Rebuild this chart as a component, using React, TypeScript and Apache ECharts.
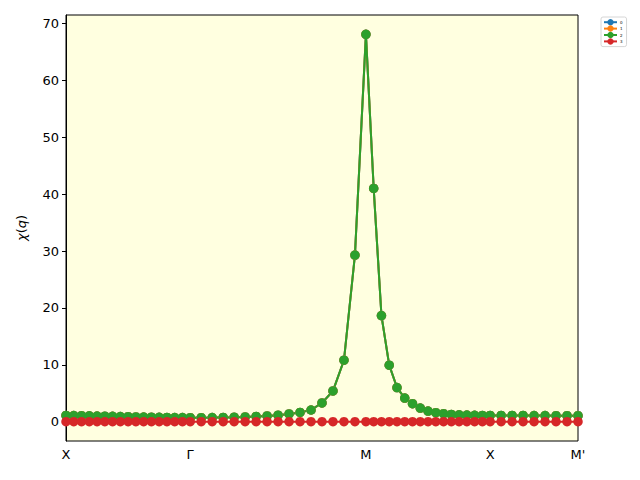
import * as echarts from "echarts";
import { useEffect, useRef } from "react";

// k-path: X -> Γ -> M -> X -> M'
const tickLabels = ["X", "Γ", "M", "X", "M'"];
const vertexPos = [0, 1, 1 + Math.SQRT2, 2 + Math.SQRT2, 2 + 1.5 * Math.SQRT2];
const segmentSteps = [16, 16, 16, 8];

// χ(q) along each segment (modes 0, 1, 2 coincide)
const chiXG = [1.1, 1.08, 1.05, 1.02, 0.99, 0.96, 0.93, 0.9, 0.87, 0.84, 0.81, 0.79, 0.77, 0.75, 0.73, 0.71, 0.7];
const chiGM = [0.7, 0.7, 0.72, 0.75, 0.79, 0.84, 0.91, 1.0, 1.13, 1.35, 1.63, 2.05, 3.3, 5.4, 10.8, 29.3, 68.1];
const chiMX = [68.1, 41.0, 18.65, 9.94, 6.0, 4.15, 3.16, 2.4, 1.87, 1.58, 1.4, 1.28, 1.2, 1.15, 1.12, 1.1, 1.1];
const chiXM2 = [1.1, 1.1, 1.1, 1.09, 1.08, 1.07, 1.06, 1.05, 1.05];
const chiMode3 = [
  0, 0, 0, 0, 0, 0, 0, 0, 0, 0, 0, 0, 0, 0, 0, 0, 0, 0, 0, 0, 0, 0, 0, 0, 0, 0, 0, 0, 0,
  0, 0, 0, 0, 0, 0, 0, 0, 0, 0, 0, 0, 0, 0, 0, 0, 0, 0, 0, 0, 0, 0, 0, 0, 0, 0, 0, 0,
];

const seriesNames = ["0", "1", "2", "3"];
const colors = ["#1f77b4", "#ff7f0e", "#2ca02c", "#d62728"];
const yTicks = [0, 10, 20, 30, 40, 50, 60, 70];

// positions of the sampled q-points along the path
const qPos: number[] = [];
segmentSteps.forEach((n, s) => {
  const a = vertexPos[s];
  const b = vertexPos[s + 1];
  for (let k = s === 0 ? 0 : 1; k <= n; k++) qPos.push(a + ((b - a) * k) / n);
});

const chiMain = [...chiXG, ...chiGM.slice(1), ...chiMX.slice(1), ...chiXM2.slice(1)];

export default function App() {
  const chartRef = useRef<HTMLDivElement>(null);

  useEffect(() => {
    document.body.style.margin = "0";
    const chart = echarts.init(chartRef.current, null, { renderer: "svg" });
    const font = "DejaVu Sans";
    const modeData = [chiMain, chiMain, chiMain, chiMode3];

    chart.setOption({
      animation: false,
      textStyle: { fontFamily: font },
      grid: {
        left: 66,
        right: 62,
        top: 15,
        bottom: 39,
        show: true,
        backgroundColor: "#ffffe0",
        borderColor: "#000",
        borderWidth: 1,
      },
      legend: {
        orient: "vertical",
        left: 601,
        top: 17,
        padding: [2, 4, 2, 2],
        itemWidth: 13,
        itemHeight: 8,
        itemGap: 0,
        borderColor: "#cccccc",
        borderWidth: 0.8,
        borderRadius: 2,
        backgroundColor: "#fff",
        textStyle: { fontSize: 4, color: "#000", padding: [0, 0, 0, -2] },
        data: seriesNames,
      },
      xAxis: {
        type: "value",
        min: vertexPos[0],
        max: vertexPos[vertexPos.length - 1],
        axisLine: { lineStyle: { color: "#000", width: 1 } },
        axisTick: {
          show: true,
          length: 4,
          lineStyle: { color: "#000", width: 1 },
          customValues: vertexPos,
        },
        axisLabel: {
          color: "#000",
          fontSize: 13,
          margin: 7,
          customValues: vertexPos,
          formatter: (v: number) => {
            let best = 0;
            vertexPos.forEach((p, i) => {
              if (Math.abs(p - v) < Math.abs(vertexPos[best] - v)) best = i;
            });
            return tickLabels[best];
          },
        },
        splitLine: { show: false },
      },
      yAxis: {
        type: "value",
        min: -3.4,
        max: 71.5,
        name: "{i|χ}({i|q})",
        nameLocation: "middle",
        nameGap: 38,
        nameTextStyle: {
          color: "#000",
          fontSize: 13,
          rich: { i: { fontStyle: "italic", fontSize: 13, color: "#000" } },
        },
        axisLine: { show: true, lineStyle: { color: "#000", width: 1 } },
        axisTick: {
          show: true,
          length: 4,
          lineStyle: { color: "#000", width: 1 },
          customValues: yTicks,
        },
        axisLabel: {
          color: "#000",
          fontSize: 13,
          margin: 7,
          customValues: yTicks,
        },
        splitLine: { show: false },
      },
      series: seriesNames.map((name, i) => ({
        name,
        type: "line",
        data: qPos.map((q, j) => [q, modeData[i][j]]),
        symbol: "circle",
        symbolSize: 9.5,
        showAllSymbol: true,
        itemStyle: { color: colors[i] },
        lineStyle: { color: colors[i], width: 2 },
        emphasis: { disabled: true },
      })),
    });

    return () => chart.dispose();
  }, []);

  return <div ref={chartRef} style={{ width: 640, height: 480 }} />;
}
